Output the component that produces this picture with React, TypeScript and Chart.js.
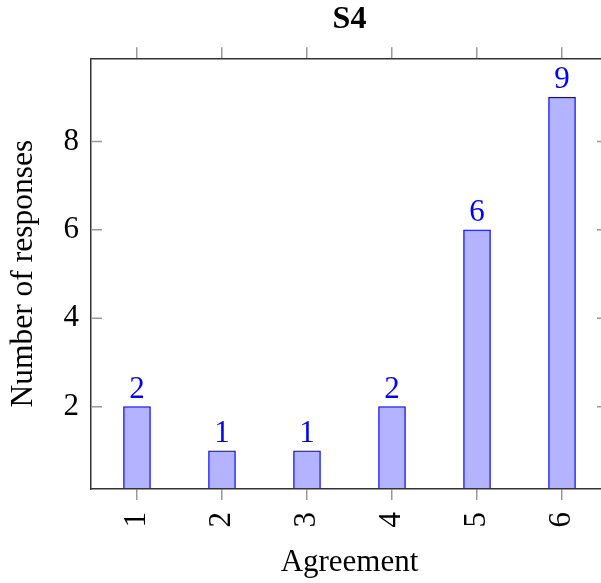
import React, { useEffect, useRef } from "react";
import { Chart, registerables } from "chart.js";

Chart.register(...registerables);

const TITLE = "S4";
const X_LABEL = "Agreement";
const Y_LABEL = "Number of responses";
const CATEGORIES = [1, 2, 3, 4, 5, 6];
const VALUES = [2, 1, 1, 2, 6, 9];
const Y_TICKS = [2, 4, 6, 8];
const X_MIN = 0.459;
const X_MAX = 6.541;
const Y_MIN = 0.137;
const Y_MAX = 9.88;

const FONT = "'Liberation Serif', 'Times New Roman', serif";
const AXIS_COLOR = "#333333";
const TICK_COLOR = "#999999";
const BAR_FILL = "rgb(179,179,255)";
const BAR_EDGE = "rgb(0,0,255)";

const W = 620;
const H = 583;

export default function App() {
  const ref = useRef<HTMLCanvasElement | null>(null);

  useEffect(() => {
    if (!ref.current) return;

    const innerTicks = {
      id: "innerTicks",
      afterDraw(chart: any) {
        const { ctx, chartArea } = chart;
        const y = chart.scales.y;
        ctx.save();
        ctx.strokeStyle = TICK_COLOR;
        ctx.lineWidth = 1.5;
        Y_TICKS.forEach((v) => {
          const py = y.getPixelForValue(v);
          ctx.beginPath();
          ctx.moveTo(chartArea.left, py);
          ctx.lineTo(chartArea.left + 11, py);
          ctx.moveTo(chartArea.right - 11, py);
          ctx.lineTo(chartArea.right, py);
          ctx.stroke();
        });
        ctx.strokeStyle = AXIS_COLOR;
        ctx.lineWidth = 1.5;
        ctx.beginPath();
        ctx.moveTo(chartArea.right, chartArea.top);
        ctx.lineTo(chartArea.right, chartArea.bottom);
        ctx.stroke();
        ctx.restore();
      },
    };

    const valueLabels = {
      id: "valueLabels",
      afterDatasetsDraw(chart: any) {
        const { ctx } = chart;
        const meta = chart.getDatasetMeta(0);
        ctx.save();
        ctx.fillStyle = BAR_EDGE;
        ctx.font = `31px ${FONT}`;
        ctx.textAlign = "center";
        ctx.textBaseline = "alphabetic";
        meta.data.forEach((bar: any, i: number) => {
          ctx.fillText(String(VALUES[i]), bar.x, bar.y - 9);
        });
        ctx.restore();
      },
    };

    const xGrid = {
      drawOnChartArea: false,
      drawTicks: true,
      tickLength: 11,
      color: TICK_COLOR,
      lineWidth: 1.5,
      offset: false,
      z: 1,
    };
    const axisBorder = { display: true, color: AXIS_COLOR, width: 1.5, z: 1 };

    const chart = new Chart(ref.current, {
      type: "bar",
      data: {
        datasets: [
          {
            data: CATEGORIES.map((c, i) => ({ x: c, y: VALUES[i] })),
            backgroundColor: BAR_FILL,
            borderColor: BAR_EDGE,
            borderWidth: 1.3,
            borderSkipped: false,
            barThickness: 27,
            base: Y_MIN,
          } as any,
        ],
      },
      options: {
        animation: false,
        responsive: false,
        maintainAspectRatio: false,
        devicePixelRatio: 1,
        layout: { padding: { left: 0, top: 0, bottom: 0, right: 12 } },
        plugins: {
          legend: { display: false },
          tooltip: { enabled: false },
          title: {
            display: true,
            fullSize: false,
            text: TITLE,
            color: "#000",
            font: { family: FONT, size: 32, weight: "bold", lineHeight: 1.2 },
            padding: { top: 1, bottom: 7.9 },
          },
        },
        scales: {
          x: {
            type: "linear",
            position: "bottom",
            offset: false,
            min: X_MIN,
            max: X_MAX,
            afterBuildTicks: (s: any) => {
              s.ticks = CATEGORIES.map((v) => ({ value: v }));
            },
            afterFit: (s: any) => {
              s.height = 94;
            },
            ticks: {
              autoSkip: false,
              minRotation: 90,
              maxRotation: 90,
              padding: 12,
              color: "#000",
              font: { family: FONT, size: 31 },
              callback: (v: any) => String(v),
            },
            grid: xGrid,
            border: axisBorder,
            title: {
              display: true,
              text: X_LABEL,
              color: "#000",
              font: { family: FONT, size: 31, lineHeight: 1.2 },
              padding: { top: 0, bottom: 2 },
            },
          },
          x2: {
            type: "linear",
            position: "top",
            offset: false,
            min: X_MIN,
            max: X_MAX,
            afterBuildTicks: (s: any) => {
              s.ticks = CATEGORIES.map((v) => ({ value: v }));
            },
            afterFit: (s: any) => {
              s.height = 11;
            },
            ticks: { display: false },
            grid: xGrid,
            border: axisBorder,
          },
          y: {
            type: "linear",
            position: "left",
            min: Y_MIN,
            max: Y_MAX,
            afterBuildTicks: (s: any) => {
              s.ticks = Y_TICKS.map((v) => ({ value: v }));
            },
            afterFit: (s: any) => {
              s.width = 91;
            },
            ticks: {
              padding: 12,
              color: "#000",
              font: { family: FONT, size: 31 },
              callback: (v: any) => String(v),
            },
            grid: {
              drawOnChartArea: false,
              drawTicks: false,
              z: 1,
            },
            border: axisBorder,
            title: {
              display: true,
              text: Y_LABEL,
              color: "#000",
              font: { family: FONT, size: 31.5, lineHeight: 1.2 },
              padding: { top: 5, bottom: 0 },
            },
          },
        },
      } as any,
      plugins: [innerTicks, valueLabels],
    });

    return () => chart.destroy();
  }, []);

  return (
    <div
      style={{
        position: "fixed",
        left: 0,
        top: 0,
        width: 601,
        height: 583,
        overflow: "hidden",
        background: "#fff",
      }}
    >
      <div style={{ position: "absolute", left: 0, top: 0, width: W, height: H }}>
        <canvas ref={ref} width={W} height={H} style={{ width: W, height: H, display: "block" }} />
      </div>
    </div>
  );
}
